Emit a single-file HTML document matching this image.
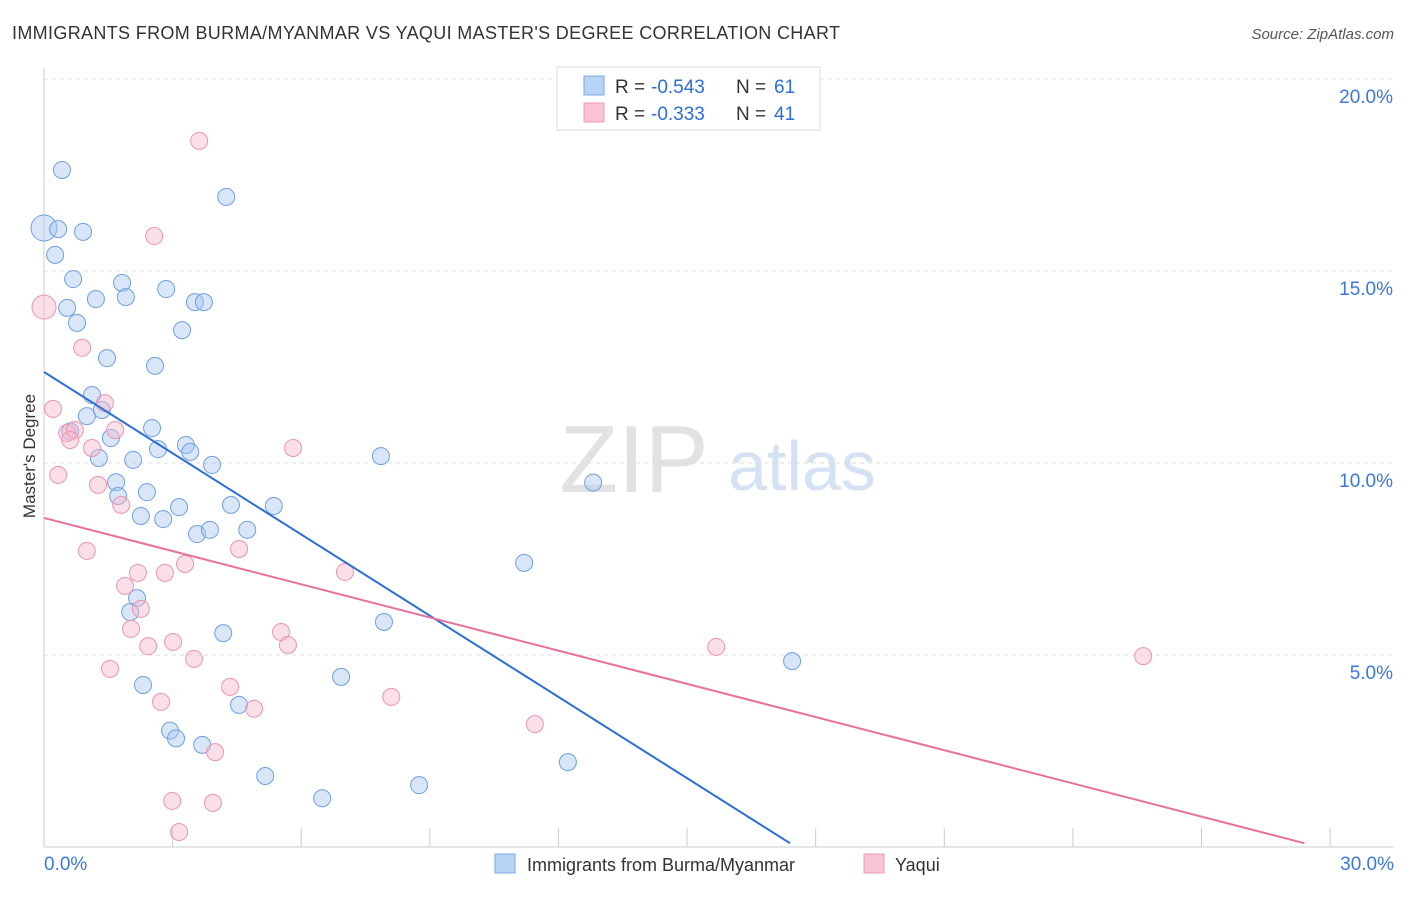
<!DOCTYPE html>
<html><head><meta charset="utf-8"><style>
body{margin:0;background:#fff;font-family:"Liberation Sans",sans-serif;}
svg text{font-family:"Liberation Sans",sans-serif;}
</style></head><body>
<svg id="chart" width="1406" height="892">
<text x="12" y="39" font-size="18" fill="#333" textLength="828" lengthAdjust="spacing">IMMIGRANTS FROM BURMA/MYANMAR VS YAQUI MASTER'S DEGREE CORRELATION CHART</text>
<text x="1394" y="39" font-size="15" fill="#555" text-anchor="end" font-style="italic">Source: ZipAtlas.com</text>
<text x="634" y="492" font-size="96" fill="#e2e2e2" font-family="Liberation Serif" text-anchor="middle">ZIP</text>
<text x="802" y="490" font-size="70" fill="#d4e2f3" text-anchor="middle">atlas</text>
<g id="grid"></g><g id="axes"></g><g id="pts"></g><g id="lines"></g>
<text x="35" y="456" font-size="17" fill="#333" text-anchor="middle" transform="rotate(-90 35 456)">Master's Degree</text>
<g>
<rect x="557" y="67" width="263" height="63" fill="#fff" stroke="#ddd"/>
<rect x="584" y="76" width="20" height="19" fill="#b8d3f5" stroke="#7aa7e3"/>
<rect x="584" y="103" width="20" height="19" fill="#f8c4d4" stroke="#ee9ab5"/>
<text x="615" y="93" font-size="19" fill="#333">R =</text>
<text x="651" y="93" font-size="19" fill="#2b6fd6">-0.543</text>
<text x="736" y="93" font-size="19" fill="#333">N =</text>
<text x="774" y="93" font-size="19" fill="#2b6fd6">61</text>
<text x="615" y="120" font-size="19" fill="#333">R =</text>
<text x="651" y="120" font-size="19" fill="#2b6fd6">-0.333</text>
<text x="736" y="120" font-size="19" fill="#333">N =</text>
<text x="774" y="120" font-size="19" fill="#2b6fd6">41</text>
</g>
<g>
<rect x="495" y="854" width="20" height="19" fill="#b8d3f5" stroke="#7aa7e3"/>
<text x="527" y="871" font-size="18" fill="#333">Immigrants from Burma/Myanmar</text>
<rect x="864" y="854" width="20" height="19" fill="#f8c4d4" stroke="#ee9ab5"/>
<text x="895" y="871" font-size="18" fill="#333">Yaqui</text>
</g>
</svg>
<script>
const xTicks=[0,3,6,9,12,15,18,21,24,27,30];
const yTicks=[5,10,15,20];
const blueX=[0,0.33,0.42,0.91,0.26,0.68,0.54,1.21,1.82,1.91,2.85,3.52,3.73,4.25,0.77,3.22,1.47,2.59,1.12,1.0,1.35,0.61,1.56,2.52,3.31,2.66,3.41,1.28,2.08,3.92,1.68,1.73,2.4,3.15,4.36,5.36,2.26,2.78,3.57,3.87,4.74,7.86,12.81,11.2,2.17,2.01,4.18,7.93,6.93,2.31,4.55,2.94,3.08,3.69,17.45,12.22,5.16,8.75,6.49];
const blueY=[16.12,16.09,17.63,16.02,15.42,14.79,14.04,14.27,14.69,14.32,14.53,14.19,14.19,16.93,13.65,13.46,12.73,12.53,11.77,11.22,11.38,10.82,10.65,10.91,10.47,10.36,10.29,10.13,10.08,9.95,9.5,9.14,9.24,8.85,8.91,8.88,8.62,8.54,8.15,8.26,8.26,10.18,9.49,7.4,6.48,6.12,5.57,5.86,4.43,4.22,3.7,3.03,2.83,2.66,4.84,2.21,1.85,1.61,1.27];
const pinkX=[3.62,2.57,0,0.89,0.21,0.54,0.72,0.61,1.42,1.66,1.12,0.33,1.26,1.8,5.81,4.55,1.0,3.29,1.89,2.19,2.82,2.26,2.03,3.01,2.43,3.5,5.53,5.69,7.02,1.54,2.73,4.34,4.9,8.1,3.99,11.45,15.68,25.64,2.99,3.94,3.15];
const pinkY=[18.39,15.91,14.06,13.0,11.41,10.78,10.86,10.6,11.56,10.86,10.39,9.69,9.43,8.91,10.39,7.76,7.71,7.37,6.8,7.14,7.14,6.2,5.68,5.34,5.23,4.9,5.6,5.26,7.16,4.64,3.78,4.17,3.6,3.91,2.47,3.2,5.21,4.97,1.2,1.15,0.39];
const blueTrend=[[0,12.37],[17.4,0.1]];
const pinkTrend=[[0,8.57],[29.4,0.1]];
const sx=v=>44+v*42.87, sy=v=>847-v*38.4;
const NS="http://www.w3.org/2000/svg";
function mk(p,t,a){const e=document.createElementNS(NS,t);for(const k in a)e.setAttribute(k,a[k]);document.getElementById(p).appendChild(e);return e;}
yTicks.forEach(v=>{
 const l=mk('grid','line',{x1:44,x2:1394,y1:sy(v),y2:sy(v),stroke:'#ddd','stroke-dasharray':'4,4'});
 
 
 const t=mk('axes','text',{x:1393,y:sy(v)+24,'font-size':19,fill:'#3b78d8','text-anchor':'end'});t.textContent=v.toFixed(1)+'%';
 
 
});
const g=mk('grid','line',{x1:44,x2:1394,y1:79,y2:79,stroke:'#ddd','stroke-dasharray':'4,4'});


mk('axes','line',{x1:44,x2:44,y1:68,y2:847,stroke:'#ccc'});
mk('axes','line',{x1:44,x2:1394,y1:847,y2:847,stroke:'#ccc'});
xTicks.forEach(v=>{const l=mk('axes','line',{x1:sx(v),x2:sx(v),y1:828,y2:847,stroke:'#ccc'});
 
 });
[[0,'0.0%','start',44],[30,'30.0%','end',1394]].forEach(d=>{const t=mk('axes','text',{x:d[3],y:870,'font-size':19,fill:'#3b78d8','text-anchor':d[2]});t.textContent=d[1];
 
 });
function pts(X,Y,fill,stroke,name){X.forEach((x,i)=>{const r=(x===0)?(name==='blue-point'?13:12):8.5;
 const c=mk('pts','circle',{cx:sx(x),cy:sy(Y[i]),r:r,fill:fill,stroke:stroke,'stroke-width':1,'fill-opacity':0.45});
 
 });}
pts(blueX,blueY,'#a9c8f0','#6fa0e0','blue-point');
pts(pinkX,pinkY,'#f7b9cc','#ec94b1','pink-point');
function tl(d,c,n){const l=mk('lines','line',{x1:sx(d[0][0]),y1:sy(d[0][1]),x2:sx(d[1][0]),y2:sy(d[1][1]),stroke:c,'stroke-width':2});
 
 }
tl(blueTrend,'#2b6fd6','blue-trendline');
tl(pinkTrend,'#e8709a','pink-trendline');
</script>
</body></html>
